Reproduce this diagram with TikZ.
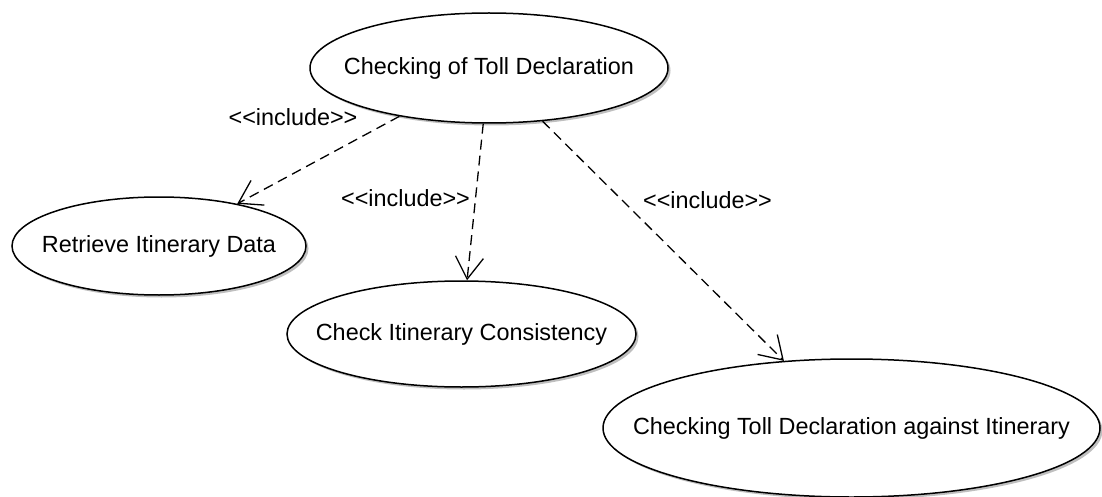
\documentclass[tikz,border=0pt]{standalone}
\usepackage{fontspec}
\setmainfont{Liberation Sans}[Ligatures=TeXOff]
\usetikzlibrary{shapes.geometric,arrows.meta,shadows}

\tikzset{
  usecase/.style={ellipse, draw=black, line width=1.5pt, fill=white, inner sep=0pt,
    drop shadow={shadow xshift=2.5pt, shadow yshift=-2.5pt, opacity=0.25, fill=black}},
  includes/.style={dashed, dash pattern=on 10pt off 6pt, line width=1.3pt,
    -{Straight Barb[length=22pt,width=28pt,line width=1.3pt]}},
  stereo/.style={inner sep=0pt}
}

\begin{document}
\begin{tikzpicture}[x=1pt, y=-1pt, font=\fontsize{23.4}{28}\selectfont]
  \useasboundingbox[fill=white] (0,0) rectangle (1102,497);

  % use cases
  \node[usecase, minimum width=358pt, minimum height=110pt] (toll) at (489,68)
    {\makebox[0pt]{Checking of Toll Declaration}};
  \node[usecase, minimum width=294pt, minimum height=98pt] (retrieve) at (159,246)
    {\makebox[0pt]{Retrieve Itinerary Data}};
  \node[usecase, minimum width=349pt, minimum height=106pt] (consist) at (461.5,334)
    {\makebox[0pt]{Check Itinerary Consistency}};
  \node[usecase, minimum width=497pt, minimum height=138pt] (against) at (851.5,428)
    {\makebox[0pt]{Checking Toll Declaration against Itinerary}};

  % include relations
  \draw[includes] (toll) -- (retrieve);
  \draw[includes] (toll) -- (consist);
  \draw[includes] (toll) -- (against);

  % stereotypes
  \node[stereo] (inc1) at (293,117) {<<include>>};
  \node[stereo] (inc2) at (405.5,198) {<<include>>};
  \node[stereo] (inc3) at (707.5,200) {<<include>>};
\end{tikzpicture}
\end{document}
